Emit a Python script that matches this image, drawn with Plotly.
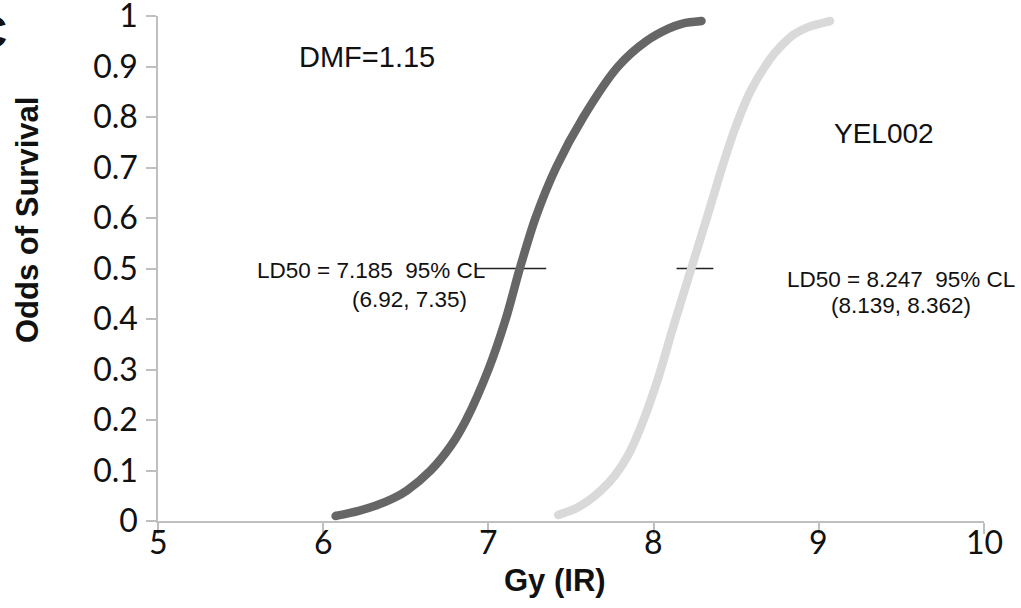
import plotly.graph_objects as go

# Dose (Gy) vs odds of survival
dark_x = [6.075, 6.215, 6.315, 6.425, 6.505, 6.650, 6.775, 6.865, 7.000, 7.105, 7.190, 7.285, 7.410, 7.575, 7.785, 7.955, 8.090, 8.175, 8.290]
dark_y = [0.010, 0.020, 0.030, 0.045, 0.060, 0.100, 0.150, 0.200, 0.300, 0.400, 0.500, 0.600, 0.700, 0.800, 0.900, 0.950, 0.975, 0.985, 0.990]
light_x = [7.423, 7.530, 7.605, 7.680, 7.765, 7.845, 7.915, 8.025, 8.115, 8.228, 8.322, 8.405, 8.485, 8.585, 8.705, 8.770, 8.846, 8.935, 9.068]
light_y = [0.012, 0.025, 0.040, 0.060, 0.090, 0.130, 0.180, 0.280, 0.380, 0.500, 0.600, 0.690, 0.770, 0.850, 0.915, 0.940, 0.963, 0.978, 0.990]

# LD50 and 95% confidence limits
dark_ld50 = 7.185
dark_cl = [6.92, 7.35]
light_ld50 = 8.247
light_cl = [8.139, 8.362]

x_ticks = [5, 6, 7, 8, 9, 10]
y_ticks = [0, 0.1, 0.2, 0.3, 0.4, 0.5, 0.6, 0.7, 0.8, 0.9, 1]

DARK = "#666666"
LIGHT = "#d9d9d9"
AXIS = "#bfbfbf"
FONT = "Liberation Sans, Arial, sans-serif"
TICKFONT = "Lato, Carlito, sans-serif"

fig = go.Figure()

# confidence-limit bars at y = 0.5
for cl in (dark_cl, light_cl):
    fig.add_trace(go.Scatter(x=cl, y=[0.5, 0.5], mode="lines",
                             line=dict(color="#222222", width=1.3),
                             hoverinfo="skip", showlegend=False))

for xs, ys, col in ((dark_x, dark_y, DARK), (light_x, light_y, LIGHT)):
    fig.add_trace(go.Scatter(x=xs, y=ys, mode="lines",
                             line=dict(color=col, width=8.5, shape="spline", smoothing=0.8),
                             showlegend=False))
    fig.add_trace(go.Scatter(x=[xs[0], xs[-1]], y=[ys[0], ys[-1]], mode="markers",
                             marker=dict(color=col, size=8.5, line=dict(width=0)),
                             showlegend=False, hoverinfo="skip"))

fig.update_layout(
    width=1021, height=608,
    margin=dict(l=158, r=37, t=16, b=87, autoexpand=False),
    paper_bgcolor="white", plot_bgcolor="white",
    font=dict(family=FONT, color="#111111"),
    showlegend=False,
    xaxis=dict(range=[5, 10], tickvals=x_ticks, showticklabels=False, automargin=False,
               showgrid=False, zeroline=False, showline=True, linecolor=AXIS, linewidth=1.5,
               ticks="outside", ticklen=11, tickwidth=1.5, tickcolor=AXIS),
    yaxis=dict(range=[0, 1], tickvals=y_ticks, ticktext=[f"{v:g}" for v in y_ticks],
               automargin=False,
               showgrid=False, zeroline=False, showline=True, linecolor=AXIS, linewidth=1.5,
               ticks="outside", ticklen=10, tickwidth=1.5, tickcolor=AXIS,
               ticklabeloverflow="allow", ticklabelstandoff=2,
               tickfont=dict(size=32, family=TICKFONT, color="#111111")),
)

W = 826.0
H = 505.0
def px(xp):
    return (xp - 158) / W
def py(yp):
    return (521 - yp) / H

# x tick labels
for v in x_ticks:
    fig.add_annotation(xref="x", yref="paper", x=v, y=py(541), text=str(v), showarrow=False,
                       xanchor="center", yanchor="middle",
                       font=dict(size=32, family=TICKFONT, color="#111111"))

ann = [
    dict(text="<b>Odds of Survival</b>", x=px(27), y=py(220), textangle=-90, font=dict(size=31)),
    dict(text="<b>Gy (IR)</b>", x=px(555), y=py(580), font=dict(size=31)),
    dict(text="DMF=1.15", x=px(367), y=py(57), font=dict(size=29)),
    dict(text="YEL002", x=px(884), y=py(133), font=dict(size=28)),
    dict(text="LD50 = 7.185\u00a0 95% CL", x=px(371), y=py(270), font=dict(size=22.5)),
    dict(text="(6.92, 7.35)", x=px(409), y=py(299), font=dict(size=22.5)),
    dict(text="LD50 = 8.247\u00a0 95% CL", x=px(901), y=py(279), font=dict(size=22.5)),
    dict(text="(8.139, 8.362)", x=px(901), y=py(305), font=dict(size=22.5)),
]
for a in ann:
    fig.add_annotation(xref="paper", yref="paper", showarrow=False,
                       xanchor="center", yanchor="middle", **a)

fig.add_annotation(xref="paper", yref="paper", showarrow=False, text="<b>C</b>",
                   x=px(9), y=py(32), xanchor="right", yanchor="middle",
                   font=dict(size=46, color="#111111"))

fig.write_html("out.html")
